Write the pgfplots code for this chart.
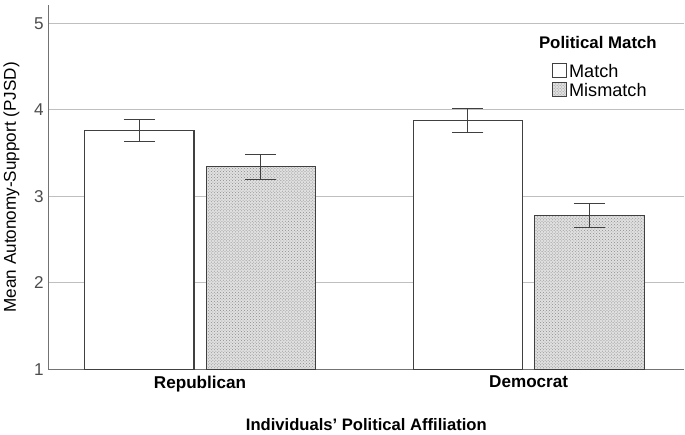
\documentclass[border=0pt]{standalone}
\usepackage{fontspec}
\setmainfont{Liberation Sans}
\usepackage{pgfplots}
\pgfplotsset{compat=1.18}
\usetikzlibrary{patterns}

% group position, mean, error
\pgfplotstableread{
x y e
0 3.76 0.13
1 3.875 0.135
}\matchdata
\pgfplotstableread{
x y e
0 3.34 0.145
1 2.78 0.14
}\mismatchdata

\begin{document}
\begin{tikzpicture}
\begin{axis}[scale only axis, width=632pt, height=362pt,
  xmin=-0.462, xmax=1.474, ymin=1, ymax=5.21,
  axis x line*=bottom, axis y line*=left,
  axis line style={black!55, line width=1pt},
  ytick={1,2,3,4,5}, xtick={0,1}, xticklabels={Republican,Democrat},
  major tick length=0pt,
  ymajorgrids, grid style={black!25, line width=1.2pt},
  /pgf/number format/assume math mode=true,
  y tick label style={font=\fontsize{17}{17}\selectfont, text=black!70, xshift=-1pt},
  x tick label style={font=\bfseries\fontsize{17}{17}\selectfont, yshift=-3pt},
  xlabel={\bfseries Individuals' Political Affiliation},
  ylabel={Mean Autonomy-Support (PJSD)},
  xlabel style={font=\fontsize{16.5}{17}\selectfont, at={(axis description cs:0.5,-0.152)}, anchor=center},
  ylabel style={font=\fontsize{17}{18}\selectfont, at={(axis description cs:-0.058,0.5)}, anchor=center},
  ybar, bar width=0.333,
  legend style={at={(0.79,0.846)}, anchor=north west, draw=none, fill=none,
    font=\fontsize{18}{19}\selectfont, row sep=0pt, inner sep=1pt,
    legend cell align=left},
  legend image code/.code={\draw[#1, line width=1pt] (0pt,-6pt) rectangle (14pt,8pt);},
  error bars/error bar style={black!75, line width=1.1pt},
  error bars/error mark options={black!75, line width=1.1pt, rotate=90, mark size=15.5pt},
]
\addplot[bar shift=-0.185, draw=black!75, fill=white, line width=1.2pt,
  error bars/.cd, y dir=both, y explicit]
  table[x=x, y=y, y error=e] {\matchdata};
\addlegendentry{Match}
\addplot[bar shift=0.185, draw=black!75, fill=black!12, line width=1.2pt,
  postaction={pattern=crosshatch dots, pattern color=black!45},
  error bars/.cd, y dir=both, y explicit]
  table[x=x, y=y, y error=e] {\mismatchdata};
\addlegendentry{Mismatch}
\node[font=\bfseries\fontsize{16.7}{17}\selectfont] at (rel axis cs:0.864,0.898) {Political Match};
\end{axis}
% a little blank room above the axis line, as in the reference
\path ([yshift=5pt]current axis.north west);
\end{tikzpicture}
\end{document}
